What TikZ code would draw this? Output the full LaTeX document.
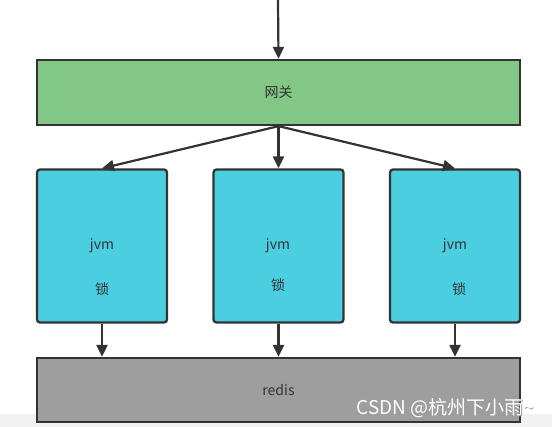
\documentclass[tikz,border=0pt]{standalone}
\usepackage{fontspec}
\setmainfont{Noto Sans CJK SC}
\usetikzlibrary{arrows.meta}
\definecolor{gwgreen}{HTML}{82C785}
\definecolor{jvmcyan}{HTML}{4BCFE0}
\definecolor{redisgray}{HTML}{9E9E9E}
\definecolor{edgec}{HTML}{333333}
\definecolor{bandc}{HTML}{F2F2F2}
\begin{document}
\begin{tikzpicture}[x=1pt,y=-1pt,
  boxbase/.style={draw=edgec,line width=2.3pt,text=edgec,font=\fontsize{14}{16}\selectfont,inner sep=0pt},
  gwbox/.style={boxbase,fill=gwgreen,minimum width=483pt,minimum height=65pt},
  jvmbox/.style={boxbase,fill=jvmcyan,rounded corners=3pt,minimum width=130pt,minimum height=153pt},
  redisbox/.style={boxbase,fill=redisgray,minimum width=483pt,minimum height=64pt},
  arr/.style={draw=edgec,line width=2.2pt,-{Triangle[length=12pt,width=11pt]}},
  lbl/.style={text=edgec,font=\fontsize{14}{16}\selectfont,inner sep=0pt}
]
\useasboundingbox (0,0) rectangle (552,427);
\fill[white] (0,0) rectangle (552,427);
\fill[bandc] (0,414) rectangle (552,427);
\coordinate (top) at (278,0);
\node[gwbox] (gw) at (278.5,92.5) {网关};
\node[jvmbox] (j1) at (102,246) {};
\node[jvmbox] (j2) at (278.5,246) {};
\node[jvmbox] (j3) at (455,246) {};
\node[lbl] (j1a) at (102,246) {jvm};
\node[lbl] (j1b) at (102,289) {锁};
\node[lbl] (j2a) at (278,246) {jvm};
\node[lbl] (j2b) at (278,285) {锁};
\node[lbl] (j3a) at (455,246) {jvm};
\node[lbl] (j3b) at (459,289) {锁};
\node[redisbox] (rd) at (278.5,390) {redis};
\draw[arr] (top) -- (gw.north);
\draw[arr] (gw.south) -- (j1.north);
\draw[arr] (gw.south) -- (j2.north);
\draw[arr] (gw.south) -- (j3.north);
\draw[arr] (j1.south) -- (j1.south |- rd.north);
\draw[arr] (j2.south) -- (j2.south |- rd.north);
\draw[arr] (j3.south) -- (j3.south |- rd.north);
\node[text=gray!75,font=\fontsize{19}{21}\selectfont,inner sep=0pt] (wms) at (445.8,408.7) {CSDN @杭州下小雨\textasciitilde};
\node[text=white,font=\fontsize{19}{21}\selectfont,inner sep=0pt] (wm) at (445.2,408) {CSDN @杭州下小雨\textasciitilde};
\end{tikzpicture}
\end{document}
